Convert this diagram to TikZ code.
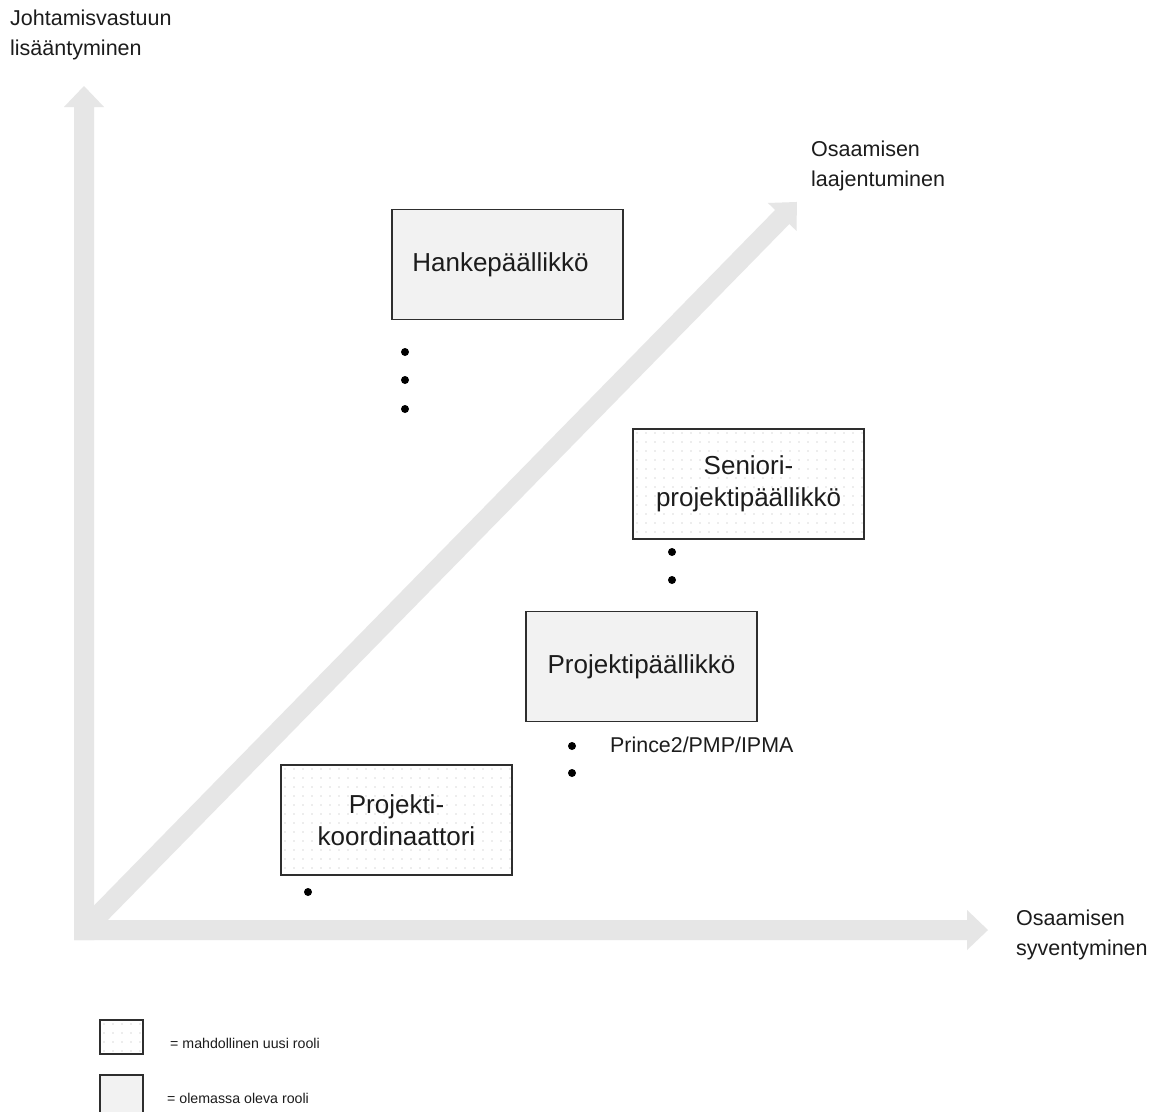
\documentclass[tikz,border=0pt]{standalone}
\usepackage{fontspec}
\setmainfont{Liberation Sans}
\definecolor{axiscol}{HTML}{E6E6E6}
\definecolor{boxfill}{HTML}{F2F2F2}
\definecolor{boxline}{HTML}{2E2E2E}
\definecolor{dotcol}{HTML}{B4B4B4}
\definecolor{txt}{HTML}{1C1C1C}
% broad arrow from the origin: angle, tail offset, length
\newcommand\blockarrow[3]{%
  \fill[axiscol, shift={(O)}, rotate=#1]
    (#2,-10) -- (#3-21,-10) -- (#3-21,-20) -- (#3,0) --
    (#3-21,20) -- (#3-21,10) -- (#2,10) -- cycle;}
\begin{document}
\begin{tikzpicture}[x=1pt,y=-1pt,
  box/.style={draw=boxline, line width=1.3pt, minimum width=231pt,
    minimum height=110pt, inner sep=0pt, align=center, text=txt,
    font=\fontsize{26}{32}\selectfont},
  existing/.style={box, fill=boxfill},
  dotfill/.style={fill=white, path picture={
      \foreach \i in {0,...,27}{\foreach \j in {0,...,13}{
        \fill[dotcol] ([shift={(\i*9+4,\j*9+4)}]path picture bounding box.north west)
          circle[radius=0.6pt];}}}},
  newrole/.style={box, dotfill},
  bullet/.style={circle, fill=black, inner sep=0pt, minimum size=8pt},
  axislabel/.style={align=left, inner sep=0pt, text=txt,
    font=\fontsize{21.5}{30}\selectfont},
  legendtext/.style={anchor=west, inner sep=0pt, text=txt,
    font=\fontsize{14.2}{17}\selectfont},
]
\useasboundingbox (0,0) rectangle (1150,1111);
\fill[white] (0,0) rectangle (1150,1111);

% axes
\coordinate (O) at (84,930);
\blockarrow{90}{-10}{844}
\blockarrow{0}{-10}{904}
\blockarrow{45.6}{0}{1019}

% axis labels
\node[axislabel, anchor=north west] (ylab) at (10,10) {Johtamisvastuun\\lisääntyminen};
\node[axislabel, anchor=north west] (dlab) at (811,141) {Osaamisen\\laajentuminen};
\node[axislabel, anchor=north west] (xlab) at (1016,910) {Osaamisen\\syventyminen};

% roles
\node[existing] (hanke) at (507.5,264.5) {Hankepäällikkö\hspace*{14pt}};
\node[newrole] (senior) at (748.5,484) {Seniori-\\projektipäällikkö};
\node[existing] (pp) at (641.5,666.5) {Projektipäällikkö};
\node[newrole] (koord) at (396.5,820) {Projekti-\\koordinaattori};

% bullets under the roles
\node[bullet] (h1) at (405,352) {};
\node[bullet] (h2) at (405,380) {};
\node[bullet] (h3) at (405,409) {};
\node[bullet] (s1) at (672,552) {};
\node[bullet] (s2) at (672,580) {};
\node[bullet] (p1) at (572,746) {};
\node[bullet] (p2) at (572,773) {};
\node[bullet] (k1) at (308,892) {};
\node[anchor=west, inner sep=0pt, text=txt, font=\fontsize{21.4}{25}\selectfont]
  (cert) at (610,745) {Prince2/PMP/IPMA};

% legend
\node[draw=boxline, line width=1.3pt, dotfill, minimum width=43pt, minimum height=34pt,
  inner sep=0pt] (legnew) at (121.5,1037) {};
\node[legendtext] (legnewtxt) at (170,1043) {= mahdollinen uusi rooli};
\node[draw=boxline, line width=1.3pt, fill=boxfill, minimum width=43pt, minimum height=48pt,
  inner sep=0pt] (legold) at (121.5,1099) {};
\node[legendtext] (legoldtxt) at (167,1098) {= olemassa oleva rooli};
\end{tikzpicture}
\end{document}
